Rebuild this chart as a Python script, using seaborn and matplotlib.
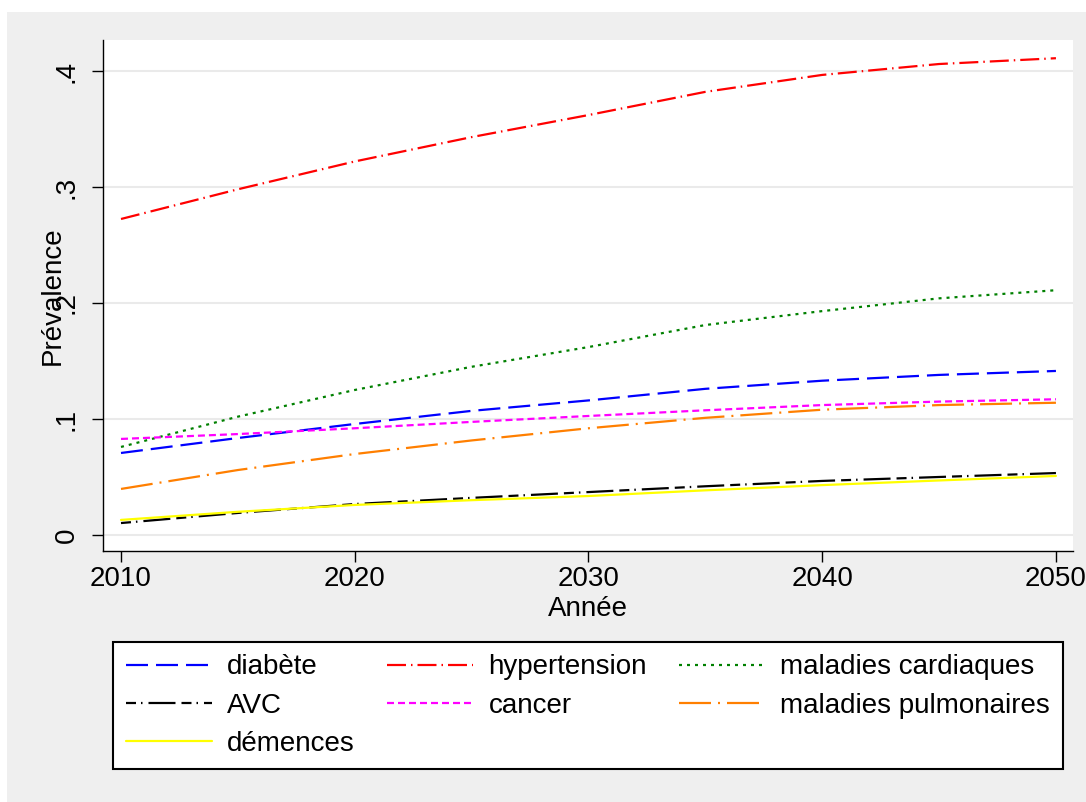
import matplotlib
matplotlib.use("Agg")
import matplotlib.pyplot as plt
import matplotlib.patches as mpatches
import seaborn as sns
import pandas as pd

# ---- data ----
years = [2010, 2015, 2020, 2025, 2030, 2035, 2040, 2045, 2050]
diabete = [0.0707, 0.0836, 0.0957, 0.1070, 0.1160, 0.1260, 0.1330, 0.1380, 0.1414]
hypertension = [0.2724, 0.2980, 0.3220, 0.3430, 0.3620, 0.3820, 0.3966, 0.4060, 0.4110]
cardiaques = [0.0759, 0.1020, 0.1250, 0.1450, 0.1620, 0.1810, 0.1930, 0.2040, 0.2110]
avc = [0.0103, 0.0190, 0.0267, 0.0320, 0.0370, 0.0420, 0.0466, 0.0500, 0.0534]
cancer = [0.0828, 0.0870, 0.0920, 0.0975, 0.1026, 0.1075, 0.1120, 0.1150, 0.1170]
pulmonaires = [0.0397, 0.0560, 0.0698, 0.0815, 0.0920, 0.1010, 0.1080, 0.1120, 0.1140]
demences = [0.0130, 0.0200, 0.0259, 0.0300, 0.0336, 0.0385, 0.0430, 0.0470, 0.0509]

labels = ["diabète", "hypertension", "maladies cardiaques", "AVC",
          "cancer", "maladies pulmonaires", "démences"]
series = [diabete, hypertension, cardiaques, avc, cancer, pulmonaires, demences]
colors = ["#0000FF", "#FF0000", "#008000", "#000000", "#FF00FF", "#FF7F00", "#FFFF00"]
# dash patterns in points (px/1.389)
px = 1 / 1.389
styles = [
    (0, (22 * px, 8 * px)),
    (0, (19 * px, 5 * px, 1.5 * px, 5 * px)),
    (0, (3 * px, 5 * px)),
    (0, (10 * px, 5 * px, 1.5 * px, 6 * px, 27 * px, 6 * px)),
    (0, (7 * px, 4 * px)),
    (0, (32 * px, 7 * px, 2 * px, 7 * px)),
    "-",
]
xticks = [2010, 2020, 2030, 2040, 2050]
yticks = [0, 0.1, 0.2, 0.3, 0.4]
ytick_labels = ["0", ".1", ".2", ".3", ".4"]

sns.set_theme(style="white")
plt.rcParams["font.family"] = ["Liberation Sans", "DejaVu Sans"]
plt.rcParams["lines.scale_dashes"] = False
plt.rcParams["text.color"] = "black"
plt.rcParams["axes.labelcolor"] = "black"
plt.rcParams["xtick.color"] = "black"
plt.rcParams["ytick.color"] = "black"

W, H = 1086, 802
fig = plt.figure(figsize=(W / 100, H / 100), dpi=100, facecolor="white")
# gray graph region
fig.patches.append(mpatches.Rectangle((7 / W, 0), 1 - 7 / W, 1 - 12 / H,
                                      transform=fig.transFigure,
                                      facecolor="#EFEFEF", edgecolor="none",
                                      zorder=-10))

ax = fig.add_axes([103 / W, 1 - 551 / H, (1073 - 103) / W, (551 - 40) / H])
ax.set_facecolor("white")

for lab, vals, c, ls in zip(labels, series, colors, styles):
    df = pd.DataFrame({"year": years, "val": vals})
    sns.lineplot(data=df, x="year", y="val", ax=ax, color=c, linestyle=ls,
                 linewidth=1.6, label=lab, legend=False)

ax.set_xlim(2009.23, 2050.73)
ax.set_ylim(-0.0138, 0.4267)
ax.set_xticks(xticks)
ax.set_xticklabels([str(x) for x in xticks])
ax.set_yticks(yticks)
ax.set_yticklabels(ytick_labels, rotation=90, va="center")
ax.grid(axis="y", color="#EAEAEA", linewidth=1.5)
ax.grid(axis="x", visible=False)
ax.set_axisbelow(True)
for s in ["top", "right"]:
    ax.spines[s].set_visible(False)
for s in ["left", "bottom"]:
    ax.spines[s].set_color("black")
    ax.spines[s].set_linewidth(1.0)
ax.tick_params(axis="both", which="major", labelsize=20, colors="black",
               labelcolor="black", length=8, width=1.0, direction="out")
ax.tick_params(axis="y", pad=9, left=True)
ax.tick_params(axis="x", pad=3, bottom=True)

ax.set_xlabel("Année", fontsize=20, color="black")
ax.set_ylabel("Prévalence", fontsize=20, color="black")
ax.xaxis.set_label_coords(0.5, (551 - 596) / 511)
ax.yaxis.set_label_coords((66 - 103) / 970, 0.5)

handles, labs = ax.get_legend_handles_labels()
order = [0, 3, 6, 1, 4, 2, 5]
leg = fig.legend([handles[i] for i in order], [labs[i] for i in order],
                 loc="upper center", bbox_to_anchor=(588 / W, 1 - 642 / H),
                 ncol=3, fontsize=20, frameon=True, fancybox=False,
                 edgecolor="black", facecolor="white", framealpha=1,
                 handlelength=3.1, handletextpad=0.55, columnspacing=1.15,
                 borderpad=0.45, labelspacing=0.44, borderaxespad=0,
                 labelcolor="black")
leg.get_frame().set_linewidth(1.5)

fig.savefig("out.png", dpi=100, facecolor=fig.get_facecolor())
